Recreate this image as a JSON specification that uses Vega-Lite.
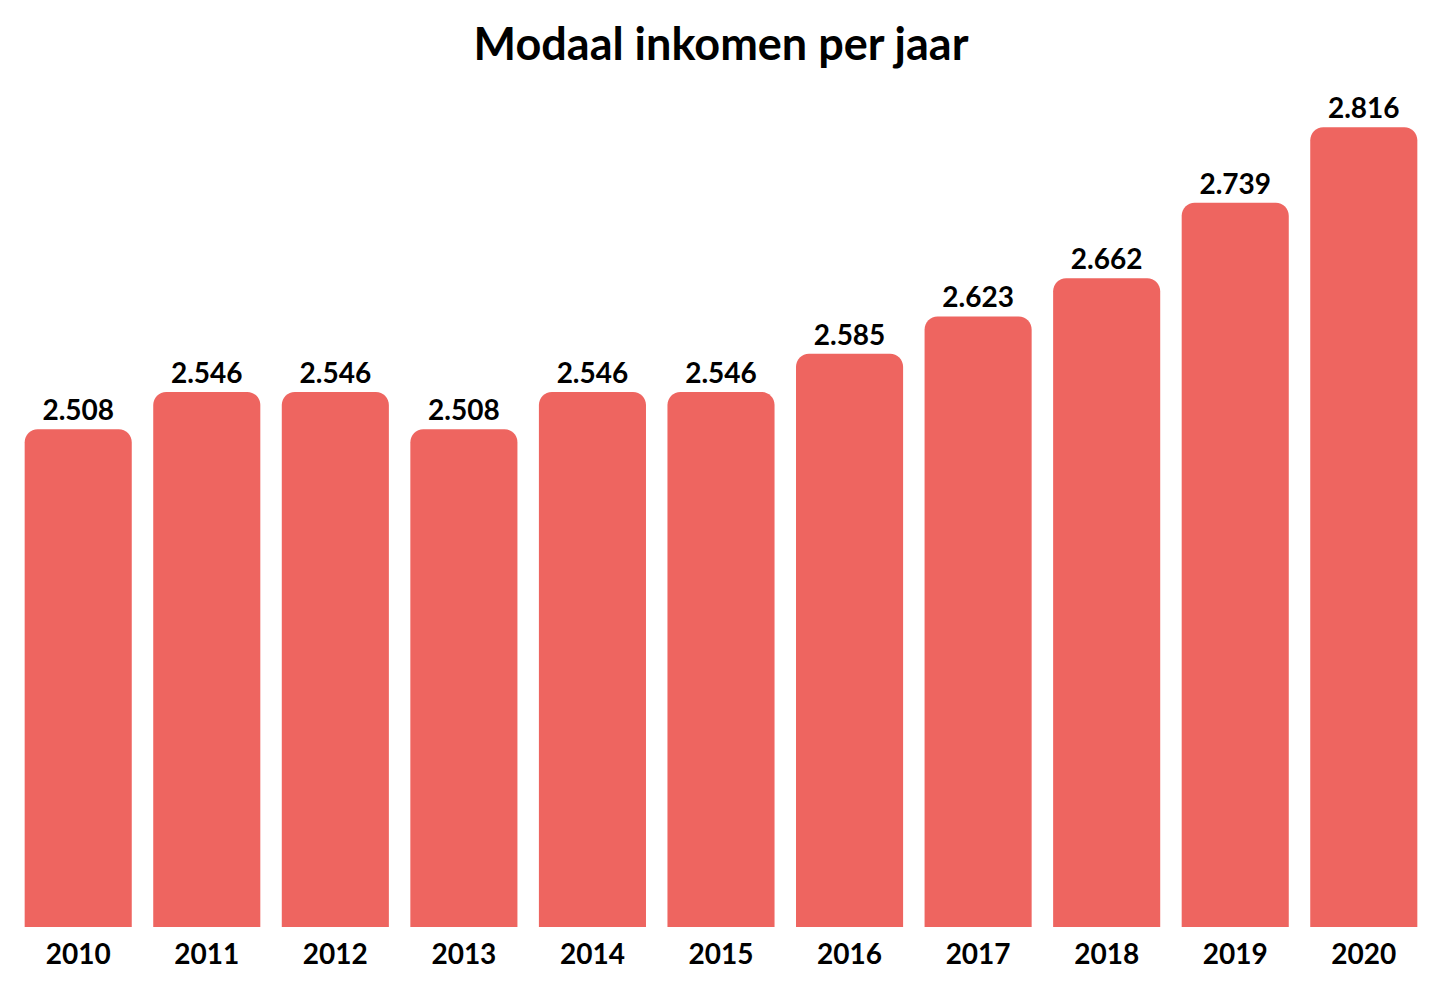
{
  "$schema": "https://vega.github.io/schema/vega-lite/v6.json",
  "autosize": {"type": "none"},
  "width": 1414,
  "height": 833,
  "padding": {"left": 14, "top": 94, "right": 22, "bottom": 71},
  "background": "white",
  "title": {
    "text": "Modaal inkomen per jaar",
    "font": "Lato",
    "fontSize": 45,
    "fontWeight": "bold",
    "color": "#000000",
    "offset": 25,
    "anchor": "middle"
  },
  "config": {
    "locale": {
      "number": {"decimal": ",", "thousands": ".", "grouping": [3], "currency": ["€", ""]}
    },
    "view": {"stroke": null},
    "font": "Lato"
  },
  "data": {
    "values": [
      {"jaar": "2010", "inkomen": 2508},
      {"jaar": "2011", "inkomen": 2546},
      {"jaar": "2012", "inkomen": 2546},
      {"jaar": "2013", "inkomen": 2508},
      {"jaar": "2014", "inkomen": 2546},
      {"jaar": "2015", "inkomen": 2546},
      {"jaar": "2016", "inkomen": 2585},
      {"jaar": "2017", "inkomen": 2623},
      {"jaar": "2018", "inkomen": 2662},
      {"jaar": "2019", "inkomen": 2739},
      {"jaar": "2020", "inkomen": 2816}
    ]
  },
  "encoding": {
    "x": {
      "field": "jaar",
      "type": "ordinal",
      "sort": null,
      "scale": {"paddingInner": 0.167, "paddingOuter": 0.083},
      "axis": {
        "title": null,
        "domain": false,
        "ticks": false,
        "labelAngle": 0,
        "labelFont": "Lato",
        "labelFontSize": 28,
        "labelFontWeight": "bold",
        "labelColor": "#000000",
        "labelPadding": 14
      }
    },
    "y": {
      "field": "inkomen",
      "type": "quantitative",
      "scale": {"domain": [2000, 2850], "zero": false, "nice": false},
      "axis": null
    }
  },
  "layer": [
    {
      "mark": {
        "type": "bar",
        "color": "#EE6560",
        "cornerRadiusTopLeft": 13,
        "cornerRadiusTopRight": 13
      },
      "encoding": {
        "y2": {"datum": 2000}
      }
    },
    {
      "mark": {
        "type": "text",
        "baseline": "bottom",
        "dy": -3,
        "font": "Lato",
        "fontSize": 28,
        "fontWeight": "bold",
        "color": "#000000"
      },
      "encoding": {
        "text": {"field": "inkomen", "type": "quantitative", "format": ",d"}
      }
    }
  ]
}
